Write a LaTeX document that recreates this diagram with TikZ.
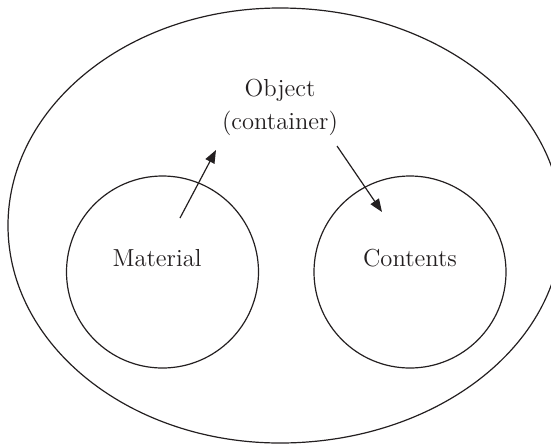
\documentclass[tikz,border=0pt]{standalone}
\usepackage{tikz}
\usetikzlibrary{
  positioning,
  arrows.meta
}
\definecolor{ink}{HTML}{231F20}

\begin{document}
\begin{tikzpicture}[
  x=0.5pt, y=-0.5pt,
  ring/.style={draw=ink, circle, line width=0.6pt, minimum size=96pt, inner sep=0pt},
  lbl/.style={text=ink, font=\fontsize{12.3}{16.5}\selectfont, align=center, inner sep=0pt},
  arr/.style={draw=ink, line width=0.6pt, -{Triangle[length=6.5pt, width=5pt]}}
]
  \useasboundingbox (0,0) rectangle (551,445);
  \clip (0,0) rectangle (551,445);

  % Outer object (slightly wider on the right)
  \draw[ink, line width=0.6pt] (280,8)
    arc[start angle=270, end angle=90, x radius=272, y radius=217.5]
    arc[start angle=90, end angle=-90, x radius=282, y radius=217.5];

  % Parts
  \node[ring] (matring) at (162.5,272) {};
  \node[ring] (conring) at (410,272) {};
  \node[lbl] (matlbl) at (157,258) {Material};
  \node[lbl] (conlbl) at (410,258) {Contents};
  \node[lbl] (obj) at (280,107) {Object\\(container)};

  % Arrow ends
  \coordinate (matout) at (180,218);
  \coordinate (objin) at (216,150);
  \coordinate (objout) at (337,146);
  \coordinate (conin) at (382,212);

  \draw[arr] (matout) -- (objin);
  \draw[arr] (objout) -- (conin);
\end{tikzpicture}
\end{document}
